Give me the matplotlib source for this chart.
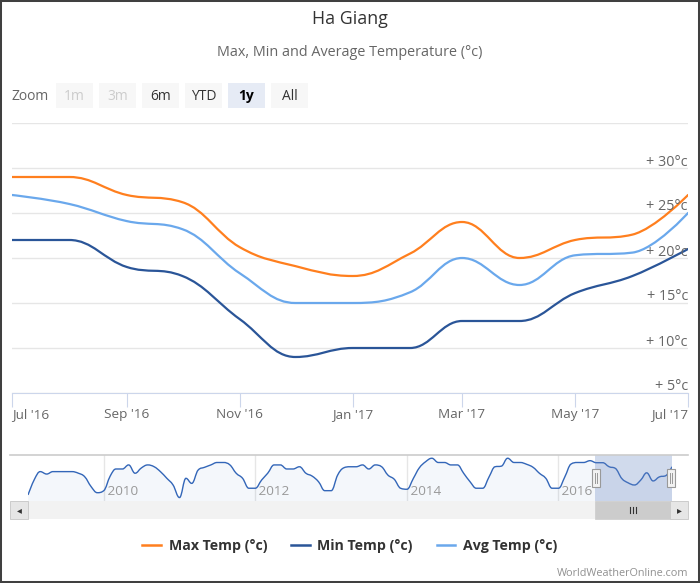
import numpy as np
import matplotlib
matplotlib.use('Agg')
import matplotlib.pyplot as plt
import matplotlib.dates as mdates
import matplotlib.transforms as mtransforms
from matplotlib.path import Path
from matplotlib.patches import PathPatch, Rectangle
from matplotlib.lines import Line2D

plt.rcParams['font.family'] = ['Open Sans', 'DejaVu Sans']

# ---- data ----
months = ['2016-07', '2016-08', '2016-09', '2016-10', '2016-11', '2016-12', '2017-01',
          '2017-02', '2017-03', '2017-04', '2017-05', '2017-06', '2017-07']
max_temp = [29, 29, 27, 26.2, 21.2, 19.1, 18, 20.5, 24, 20, 22, 22.6, 27]
min_temp = [22, 22, 19, 18, 13.2, 9, 10, 10, 13, 13, 16.1, 18, 21]
avg_temp = [27, 26, 24.1, 23.2, 18.3, 15, 15, 16.2, 20, 17, 20.3, 20.6, 25]

# navigator history of max temp, Jan 2009 - Jun 2016
nav_start = '2009-01'
nav_max = [13.1, 20.8, 24.6, 23.4, 24.6, 24.6, 24.6, 24.6, 23.8, 22.1, 17.2, 14.2,
           15.2, 22.4, 25.9, 25.9, 27.9, 23.8, 26.4, 27.9, 27.0, 24.6, 21.3, 18.0,
           11.8, 21.3, 18.8, 25.4, 26.7, 27.9, 29.1, 29.1, 27.9, 23.8, 21.3, 16.4,
           16.4, 20.5, 23.8, 27.9, 27.9, 25.9, 25.9, 27.0, 23.8, 22.4, 19.6, 15.2,
           15.2, 22.9, 26.4, 27.0, 27.0, 27.9, 25.9, 27.9, 27.0, 22.9, 20.8, 16.4,
           15.9, 21.3, 26.4, 29.5, 31.2, 29.1, 29.1, 27.9, 27.9, 23.8, 19.6, 16.4,
           16.4, 22.1, 27.0, 27.3, 31.2, 29.1, 29.1, 28.2, 26.7, 23.8, 21.3, 16.4,
           16.4, 22.1, 28.3, 29.1, 29.1, 30.0]

y_ticks = [5, 10, 15, 20, 25, 30]
x_ticks = ['2016-07', '2016-09', '2016-11', '2017-01', '2017-03', '2017-05', '2017-07']
x_labels = ["Jul '16", "Sep '16", "Nov '16", "Jan '17", "Mar '17", "May '17", "Jul '17"]
nav_years = [2010, 2012, 2014, 2016]
buttons = ['1m', '3m', '6m', 'YTD', '1y', 'All']

series = [('Max Temp (°c)', max_temp, '#ff7f1e'),
          ('Min Temp (°c)', min_temp, '#2a5598'),
          ('Avg Temp (°c)', avg_temp, '#6aa8ec')]


def to_num(m):
    return mdates.date2num(np.array(m, dtype='datetime64[M]').astype('datetime64[D]'))


def spline(xs, ys, smooth=1.5):
    # highcharts-like spline as cubic bezier path
    n = len(xs)
    lc = [None] * n
    rc = [None] * n
    for i in range(1, n - 1):
        px, py = xs[i], ys[i]
        lx, ly = xs[i - 1], ys[i - 1]
        nx, ny = xs[i + 1], ys[i + 1]
        d = smooth + 1
        lcx, lcy = (smooth * px + lx) / d, (smooth * py + ly) / d
        rcx, rcy = (smooth * px + nx) / d, (smooth * py + ny) / d
        if rcx != lcx:
            c = (rcy - lcy) * (rcx - px) / (rcx - lcx) + py - rcy
            lcy += c
            rcy += c
        if lcy > ly and lcy > py:
            lcy = max(ly, py); rcy = 2 * py - lcy
        elif lcy < ly and lcy < py:
            lcy = min(ly, py); rcy = 2 * py - lcy
        if rcy > ny and rcy > py:
            rcy = max(ny, py); lcy = 2 * py - rcy
        elif rcy < ny and rcy < py:
            rcy = min(ny, py); lcy = 2 * py - rcy
        lc[i] = (lcx, lcy)
        rc[i] = (rcx, rcy)
    verts = [(xs[0], ys[0])]
    codes = [Path.MOVETO]
    for i in range(1, n):
        verts += [rc[i - 1] or (xs[i - 1], ys[i - 1]), lc[i] or (xs[i], ys[i]), (xs[i], ys[i])]
        codes += [Path.CURVE4] * 3
    return verts, codes


W, H = 700, 583
fig = plt.figure(figsize=(W / 100, H / 100), dpi=100)


def fx(px):
    return px / W


def fy(py):
    return 1 - py / H


def frect(x0, y0, x1, y1, **kw):
    fig.add_artist(Rectangle((fx(x0), fy(y1)), fx(x1) - fx(x0), fy(y0) - fy(y1),
                             transform=fig.transFigure, **kw))


def fline(xs, ys, **kw):
    fig.add_artist(Line2D([fx(v) for v in xs], [fy(v) for v in ys], transform=fig.transFigure, **kw))


# titles
fig.text(0.5, fy(19), 'Ha Giang', ha='center', va='center', fontsize=12.8, color='#333333')
fig.text(0.5, fy(53), 'Max, Min and Average Temperature (°c)', ha='center', va='center',
         fontsize=10.4, color='#666666')

# range selector
fig.text(fx(12), fy(96), 'Zoom', ha='left', va='center', fontsize=10, color='#666666')
for i, b in enumerate(buttons):
    x0 = 56 + i * 43
    sel = b == '1y'
    frect(x0, 83, x0 + 37, 108, facecolor='#e6ebf5' if sel else '#f7f7f7', edgecolor='none')
    col = '#cccccc' if b in ('1m', '3m') else ('#000000' if sel else '#333333')
    fig.text(fx(x0 + 18.5), fy(96), b, ha='center', va='center', fontsize=10, color=col,
             fontweight='bold' if sel else 'normal')

# main chart
ax = fig.add_axes([fx(12), fy(393), fx(688) - fx(12), fy(123) - fy(393)])
mx = to_num(months)
handles = []
for name, vals, col in series:
    v, c = spline(list(mx), list(vals))
    ax.add_patch(PathPatch(Path(v, c), fill=False, edgecolor=col, lw=1.6, capstyle='round'))
    handles.append(Line2D([], [], color=col, lw=1.8, label=name))
ax.set_xlim(mx[0], mx[-1])
ax.set_ylim(5, 35)
for t in y_ticks + [35]:
    ax.axhline(t, color='#e6e6e6', lw=1, zorder=0)
ax.set_yticks([])
lab_tr = mtransforms.offset_copy(ax.get_yaxis_transform(), fig=fig, x=0, y=2.5, units='dots')
for t in y_ticks:
    ax.text(1.0, t, '+ %d°c' % t, transform=lab_tr, ha='right', va='baseline',
            fontsize=10.4, color='#666666')
for s in ['top', 'right', 'left']:
    ax.spines[s].set_visible(False)
ax.spines['bottom'].set_color('#ccd6eb')
ax.set_xticks(to_num(x_ticks))
ax.set_xticklabels(x_labels)
ax.tick_params(axis='x', length=10, color='#ccd6eb', labelcolor='#666666', labelsize=9.7, pad=1.0)
lbls = ax.get_xticklabels()
lbls[0].set_ha('left')
lbls[-1].set_ha('right')

# navigator
frect(10, 501, 688, 519, facecolor='#f2f2f2', edgecolor='none')
nav = fig.add_axes([fx(28), fy(501), fx(672) - fx(28), fy(455) - fy(501)])
nx_ = to_num(np.arange(np.datetime64(nav_start), np.datetime64(nav_start) + len(nav_max) + len(months),
                       dtype='datetime64[M]'))
ny_ = nav_max + max_temp
nav.set_xlim(nx_[0], nx_[-1])
nav.set_ylim(10.1, 32.8)
v, c = spline(list(nx_), list(ny_))
fill_v = v + [(nx_[-1], 10.1), (nx_[0], 10.1), (nx_[0], 10.1)]
fill_c = c + [Path.LINETO, Path.LINETO, Path.CLOSEPOLY]
nav.add_patch(PathPatch(Path(fill_v, fill_c), facecolor='#3366b8', alpha=0.05, edgecolor='none'))
nav.add_patch(PathPatch(Path(v, c), fill=False, edgecolor='#3366b8', lw=1.0))
for yr in nav_years:
    xv = mdates.date2num(np.datetime64('%d-01-01' % yr))
    nav.axvline(xv, color='#e6e6e6', lw=1, zorder=0)
    nav.text(xv, 11.5, ' ' + str(yr), ha='left', va='bottom', fontsize=9.7, color='#999999')
nav.axis('off')
fline([10, 688], [455, 455], color='#cccccc', lw=1.2)
frect(595, 455, 672, 501, facecolor=(102 / 255, 133 / 255, 194 / 255, 0.3), edgecolor='none')
for hx in (596, 671):
    frect(hx - 4, 469, hx + 4, 487, facecolor='#f2f2f2', edgecolor='#999999', lw=0.8)
    fline([hx - 1, hx - 1], [473, 483], color='#999999', lw=0.7)
    fline([hx + 1, hx + 1], [473, 483], color='#999999', lw=0.7)

# scrollbar
frect(595, 501, 672, 519, facecolor='#cccccc', edgecolor='#cccccc', lw=0.5)
for lx in (630, 633, 636):
    fline([lx, lx], [507, 513], color='#333333', lw=0.8)
frect(10, 501, 28, 519, facecolor='#e6e6e6', edgecolor='#cccccc', lw=0.7)
frect(670, 501, 688, 519, facecolor='#e6e6e6', edgecolor='#cccccc', lw=0.7)
fig.text(fx(19), fy(510), '◂', ha='center', va='center', fontsize=7, color='#333333',
         family='DejaVu Sans')
fig.text(fx(679), fy(510), '▸', ha='center', va='center', fontsize=7, color='#333333',
         family='DejaVu Sans')

# legend
fig.legend(handles=handles, loc='center', bbox_to_anchor=(0.5, fy(546)), ncol=3, frameon=False,
           prop={'weight': 'bold', 'size': 10.2}, labelcolor='#333333', handlelength=1.3,
           handletextpad=0.55, columnspacing=1.7)

fig.text(fx(688), fy(573), 'WorldWeatherOnline.com', ha='right', va='center', fontsize=7.8,
         color='#909090')

fig.add_artist(Rectangle((0, 0), 1, 1, transform=fig.transFigure, fill=False, lw=2.9,
                         edgecolor='#404040'))

fig.savefig('out.png', dpi=100)
